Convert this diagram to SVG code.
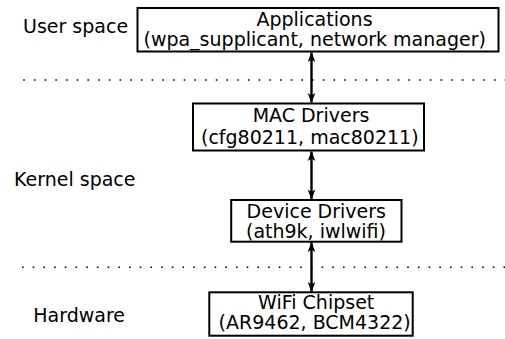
<svg xmlns="http://www.w3.org/2000/svg" width="505" height="339" viewBox="0 0 505 339">
<defs>
<style>
text{font-family:"DejaVu Sans",Verdana,sans-serif;font-size:19px;fill:#000}
.c{text-anchor:middle}
.box{fill:#fff;stroke:#000;stroke-width:2}
.dot{stroke:#000;stroke-width:1.6;stroke-dasharray:1.6 9.1;fill:none}
.arr{stroke:#000;stroke-width:2.4;fill:none;marker-start:url(#ah);marker-end:url(#ah)}
</style>
<marker id="ah" markerUnits="userSpaceOnUse" viewBox="-11 -5 12 10" refX="0" refY="0" markerWidth="12" markerHeight="10" orient="auto-start-reverse">
<path d="M0.5,0 L-9.5,-3.8 L-7,0 L-9.5,3.8 Z" fill="#000"/>
</marker>
</defs>
<g id="separators">
<line class="dot" x1="23.2" y1="80" x2="505" y2="80"/>
<line class="dot" x1="22" y1="267.3" x2="505" y2="267.3"/>
</g>
<g id="labels">
<text x="23" y="33.3">User space</text>
<text x="14" y="185.7">Kernel space</text>
<text x="33.3" y="321.7">Hardware</text>
</g>
<g id="connectors">
<line class="arr" x1="311.5" y1="52.5" x2="311.5" y2="102.5"/>
<line class="arr" x1="311.5" y1="151.5" x2="311.5" y2="199"/>
<line class="arr" x1="311.5" y1="242.5" x2="311.5" y2="291.5"/>
</g>
<g id="applications">
<rect class="box" x="137.5" y="8" width="361" height="43.5"/>
<text class="c" x="314.5" y="25.7">Applications</text>
<text class="c" x="314.7" y="45.5">(wpa_supplicant, network manager)</text>
</g>
<g id="mac-drivers">
<rect class="box" x="193" y="103.5" width="231" height="47"/>
<text class="c" x="311" y="121.7">MAC Drivers</text>
<text class="c" x="309.8" y="143.5">(cfg80211, mac80211)</text>
</g>
<g id="device-drivers">
<rect class="box" x="231.2" y="200" width="170.3" height="41.7"/>
<text class="c" x="316.3" y="217.7">Device Drivers</text>
<text class="c" x="316" y="237.7">(ath9k, iwlwifi)</text>
</g>
<g id="wifi-chipset">
<rect class="box" x="209.3" y="292.3" width="203.4" height="43.4"/>
<text class="c" x="316.2" y="308.5">WiFi Chipset</text>
<text class="c" x="314.7" y="328.5">(AR9462, BCM4322)</text>
</g>
</svg>
